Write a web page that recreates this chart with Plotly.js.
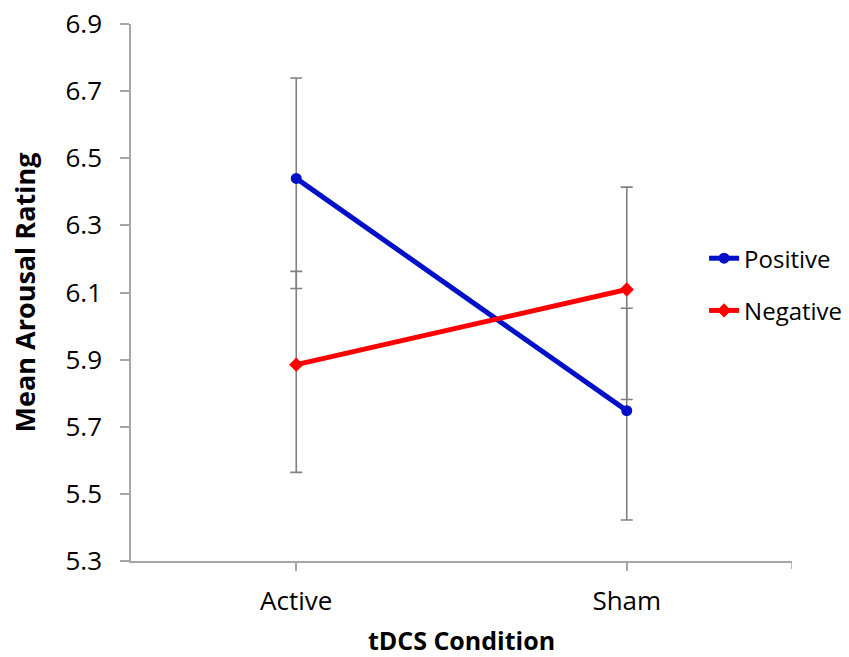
<!DOCTYPE html>
<html>
<head>
<meta charset="utf-8">
<script src="https://cdn.plot.ly/plotly-3.0.1.min.js"></script>
<style>html,body{margin:0;padding:0;background:#fff;}#chart{width:849px;height:657px;}</style>
</head>
<body>
<div id="chart"></div>
<script>
var categories = ['Active', 'Sham'];
var positiveMean = [6.44, 5.748];
var positiveErrUp = [0.299, 0.305];
var positiveErrDown = [0.328, 0.326];
var negativeMean = [5.885, 6.109];
var negativeErrUp = [0.278, 0.305];
var negativeErrDown = [0.321, 0.328];
var yTicks = [5.3, 5.5, 5.7, 5.9, 6.1, 6.3, 6.5, 6.7, 6.9];

var FONT = 'Open Sans, Liberation Sans, sans-serif';
var errStyle = {type: 'data', symmetric: false, color: '#808080', thickness: 1.6, width: 6};

var traces = [
  {
    x: categories, y: positiveMean, name: 'Positive', type: 'scatter', mode: 'lines+markers',
    legendgroup: 'p',
    line: {color: '#0010C8', width: 5},
    marker: {symbol: 'circle', size: 11, color: '#0010C8'},
    error_y: Object.assign({array: positiveErrUp, arrayminus: positiveErrDown}, errStyle)
  },
  {
    x: categories, y: negativeMean, name: 'Negative', type: 'scatter', mode: 'lines+markers',
    legendgroup: 'n',
    line: {color: '#FF0000', width: 5},
    marker: {symbol: 'diamond', size: 11, color: '#FF0000'},
    error_y: Object.assign({array: negativeErrUp, arrayminus: negativeErrDown}, errStyle)
  }
];

var layout = {
  width: 849, height: 657,
  margin: {l: 131, r: 57, t: 24, b: 96, autoexpand: false},
  paper_bgcolor: '#fff', plot_bgcolor: '#fff',
  showlegend: true,
  legend: {x: 0.867, xanchor: 'left', y: 0.605, yanchor: 'top', traceorder: 'grouped', tracegroupgap: 18,
           font: {family: FONT, size: 24, color: '#000'}, bgcolor: 'rgba(0,0,0,0)'},
  xaxis: {
    type: 'category', range: [-0.5, 1.5],
    showline: true, linecolor: '#A6A6A6', linewidth: 1.5,
    ticks: 'outside', ticklen: 8, tickwidth: 1.5, tickcolor: '#A6A6A6',
    showgrid: false, zeroline: false, ticklabelstandoff: 8,
    tickfont: {family: FONT, size: 26, color: '#000'},
    title: {text: '<b>tDCS Condition</b>', font: {family: FONT, size: 25, color: '#000'}, standoff: 16}
  },
  yaxis: {
    range: [5.3, 6.9], tickvals: yTicks, ticktext: yTicks.map(function(v){return v.toFixed(1);}),
    showline: true, linecolor: '#A6A6A6', linewidth: 1.5,
    ticks: 'outside', ticklen: 9, tickwidth: 1.5, tickcolor: '#A6A6A6',
    showgrid: false, zeroline: false, ticklabelstandoff: 13,
    tickfont: {family: FONT, size: 26, color: '#000'},
    title: {text: '<b>Mean Arousal Rating</b>', font: {family: FONT, size: 27, color: '#000'}, standoff: 22}
  },
  shapes: [
    {type: 'line', xref: 'x', yref: 'paper', x0: 1.5, x1: 1.5, y0: 0, y1: -0.015,
     line: {color: '#A6A6A6', width: 1.5}}
  ]
};

Plotly.newPlot('chart', traces, layout, {displayModeBar: false});
</script>
</body>
</html>
